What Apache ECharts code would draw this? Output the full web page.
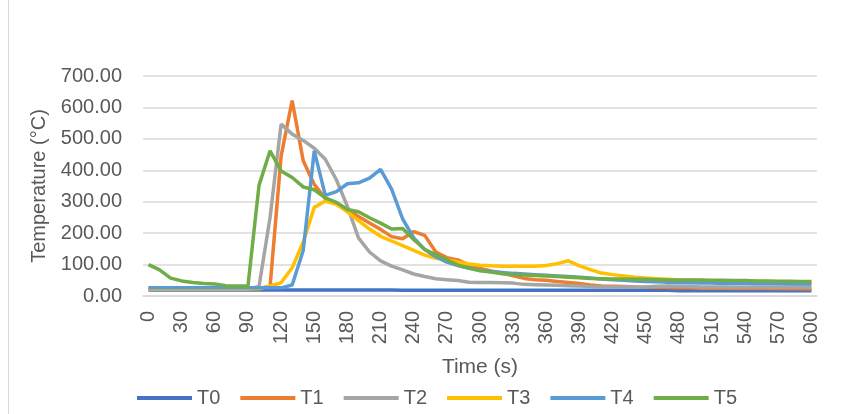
<!DOCTYPE html>
<html>
<head>
<meta charset="utf-8">
<script src="https://cdn.jsdelivr.net/npm/echarts@6/dist/echarts.min.js"></script>
<style>
  html, body { margin: 0; padding: 0; background: #fff; }
  #tempChart { width: 842px; height: 414px; }
</style>
</head>
<body>
<div id="tempChart"></div>
<script>
// time axis, one point every 10 s
var timeLabels = [];
for (var t = 0; t <= 600; t += 10) timeLabels.push(String(t));

var seriesNames = ['T0', 'T1', 'T2', 'T3', 'T4', 'T5'];

var t0 = [19,19,19,19,19,19,19,19,19,19,19,19,19,19,19,19,19,19,19,19,
          19,19,19,18,18,18,18,18,18,18,18,18,18,18,18,18,18,18,18,18,
          18,18,18,18,18,18,18,18,17,17,17,17,17,17,17,17,17,17,17,17,17];
var t1 = [24,24,24,24,24,24,24,24,24,24,25,30,445,622,430,355,310,294,276,253,
          232,212,189,182,205,193,140,122,115,98,88,80,73,64,56,52,50,46,43,40,
          35,32,31,30,29,28,28,27,26,26,25,25,25,24,24,24,24,23,23,23,22];
var t2 = [22,22,22,22,22,22,22,22,22,22,30,250,547,515,495,470,435,370,285,185,
          140,112,95,83,70,62,55,52,49,44,43,43,42,41,37,36,35,34,33,32,
          30,29,29,29,28,29,31,32,31,30,29,29,29,28,28,28,28,28,28,28,28];
var t3 = [23,23,23,23,23,23,23,23,23,23,23,32,42,90,172,282,302,292,268,240,
          213,190,175,160,145,130,120,115,108,102,98,96,95,95,95,95,97,103,112,96,
          84,73,68,64,60,57,55,53,51,50,49,48,48,47,47,46,46,45,45,45,44];
var t4 = [26,26,26,26,26,26,26,26,26,26,26,26,26,35,145,462,320,332,357,360,
          375,403,340,245,185,148,125,108,97,88,82,78,75,72,70,68,66,64,62,60,
          57,54,52,50,48,46,45,44,43,42,41,41,40,40,40,39,39,39,38,38,38];
var t5 = [100,83,57,48,43,40,38,33,32,32,352,462,398,377,347,338,312,298,275,268,
          249,232,213,215,180,148,132,115,98,90,80,76,71,68,67,65,64,62,60,58,
          56,55,54,54,53,53,52,51,51,51,51,50,50,49,49,48,48,47,47,46,46];

var colors = ['#4472C4', '#ED7D31', '#A5A5A5', '#FFC000', '#5B9BD5', '#70AD47'];
var allData = [t0, t1, t2, t3, t4, t5];

var fontName = '"Liberation Sans", Arial, sans-serif';
var textColor = '#595959';

var series = [];
for (var i = 0; i < seriesNames.length; i++) {
    series.push({
        name: seriesNames[i],
        type: 'line',
        data: allData[i],
        symbol: 'none',
        lineStyle: { width: 3.5, color: colors[i] },
        itemStyle: { color: colors[i] }
    });
}

var option = {
    animation: false,
    color: colors,
    grid: { left: 143, right: 25, top: 76, bottom: 118 },
    // x轴
    xAxis: {
        type: 'category',
        boundaryGap: true,
        data: timeLabels,
        name: 'Time (s)',
        nameLocation: 'middle',
        nameGap: 61,
        nameTextStyle: { fontFamily: fontName, fontSize: 21, color: textColor },
        axisLine: { show: true, lineStyle: { color: '#d9d9d9', width: 1.5 } },
        axisTick: { show: false },
        axisLabel: {
            interval: 2,
            rotate: 90,
            margin: 15,
            fontFamily: fontName,
            fontSize: 20,
            color: textColor
        }
    },
    // y轴
    yAxis: {
        type: 'value',
        min: 0,
        max: 700,
        interval: 100,
        name: 'Temperature (°C)',
        nameLocation: 'middle',
        nameGap: 80,
        nameTextStyle: { fontFamily: fontName, fontSize: 20, color: textColor },
        axisLine: { show: false },
        axisTick: { show: false },
        axisLabel: {
            margin: 21,
            fontFamily: fontName,
            fontSize: 20,
            color: textColor,
            formatter: function (v) { return v.toFixed(2); }
        },
        splitLine: { lineStyle: { color: '#d9d9d9', width: 1.5 } }
    },
    legend: {
        left: 137,
        top: 388,
        padding: 0,
        icon: 'rect',
        itemWidth: 55,
        itemHeight: 4,
        itemGap: 20,
        textStyle: { fontFamily: fontName, fontSize: 20, color: textColor },
        data: seriesNames
    },
    graphic: [{
        type: 'line',
        shape: { x1: 8.5, y1: 0, x2: 8.5, y2: 414 },
        style: { stroke: '#d9d9d9', lineWidth: 1 }
    }],
    series: series
};

var tempChart = echarts.init(document.getElementById('tempChart'));
tempChart.setOption(option, true);
</script>
</body>
</html>
